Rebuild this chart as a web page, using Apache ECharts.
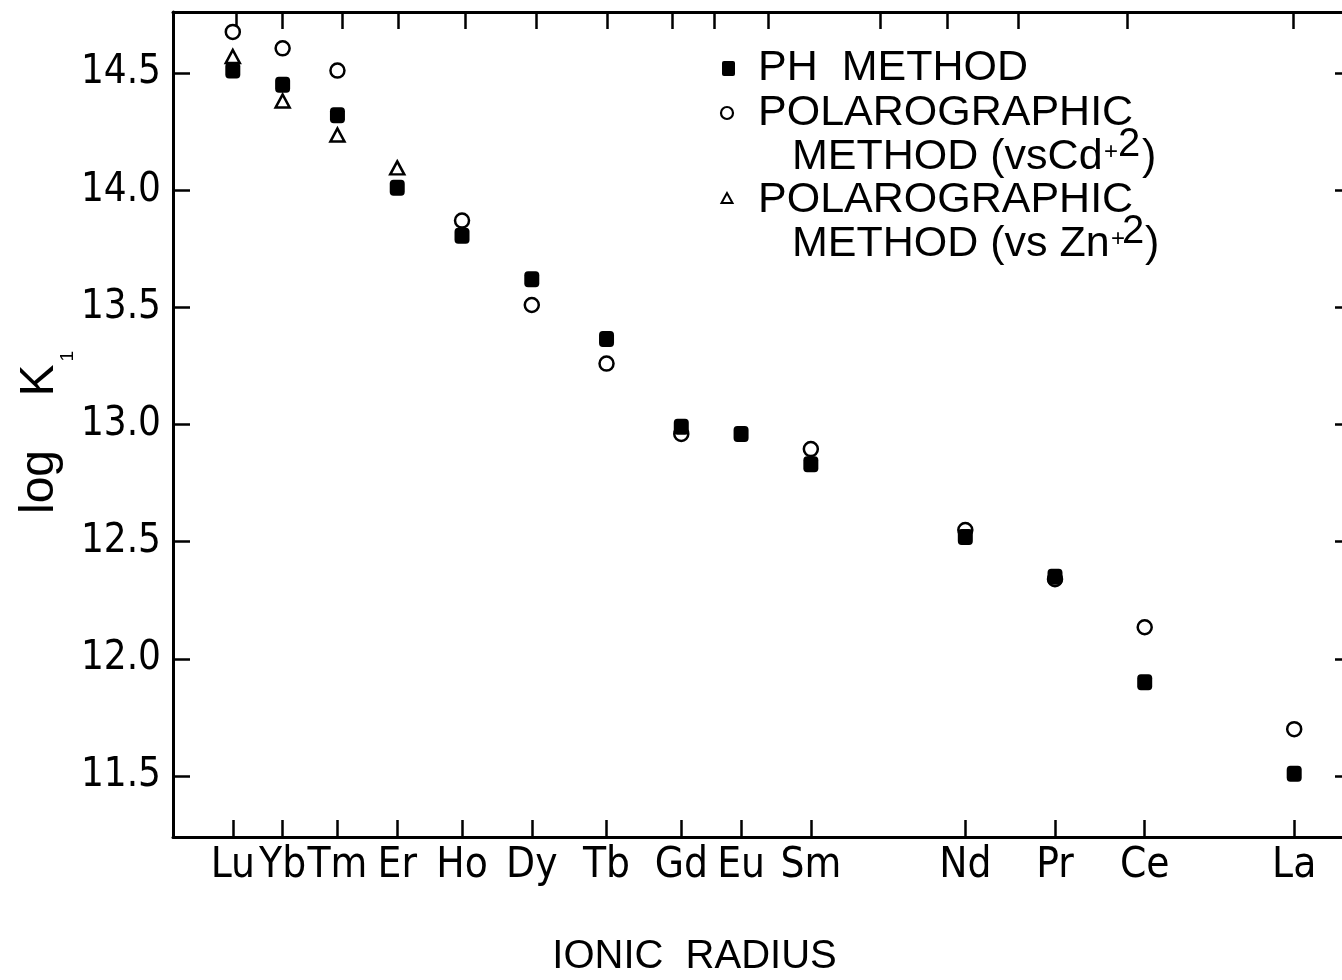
<!DOCTYPE html>
<html>
<head>
<meta charset="utf-8">
<script src="https://cdn.jsdelivr.net/npm/echarts@6/dist/echarts.min.js"></script>
<style>
html,body{margin:0;padding:0;background:#fff;}
#chart{width:1342px;height:980px;}
</style>
</head>
<body>
<div id="chart"></div>
<script>
// ---- data ----
const elements = ['Lu','Yb','Tm','Er','Ho','Dy','Tb','Gd','Eu','Sm','Nd','Pr','Ce','La'];
const ionicRadius = [0.848,0.858,0.869,0.881,0.894,0.908,0.923,0.938,0.950,0.964,0.995,1.013,1.031,1.061];
const phMethod =        [14.51,14.45,14.32,14.01,13.805,13.62,13.365,12.99,12.96,12.83,12.52,12.35,11.90,11.51];
const polarographicCd = [14.675,14.605,14.51,null,13.87,13.51,13.26,12.96,null,12.895,12.55,12.34,12.135,11.70];
const polarographicZn = [14.57,14.38,14.235,14.095,null,null,null,null,null,null,null,null,null,null];
const yTicks = [11.5,12.0,12.5,13.0,13.5,14.0,14.5];
const topTicks = [0.8486,0.8580,0.8699,0.8813,0.8946,0.9088,0.9231,0.9361,0.9446,0.9554,0.9779,0.9914,1.0056,1.0275,1.0608];

const xMin = 0.836, xMax = 1.0726, yMin = 11.24, yMax = 14.76;

const FN = "'Liberation Sans Narrow','DejaVu Sans Condensed','Liberation Sans',sans-serif";
const FR = "'Liberation Sans',Arial,sans-serif";

function pairs(vals){
  const out=[];
  vals.forEach((v,i)=>{ if(v!=null) out.push([ionicRadius[i], v]); });
  return out;
}
function nameFor(v){
  let best=0, bd=1e9;
  ionicRadius.forEach((r,i)=>{ const d=Math.abs(r-v); if(d<bd){bd=d;best=i;} });
  return elements[best];
}

const chart = echarts.init(document.getElementById('chart'), null, {renderer:'canvas'});
const lineStyle = {color:'#000', width:3};
const tickStyle = {color:'#000', width:2.5};
const option = {
  animation:false,
  backgroundColor:'#fff',
  grid:{left:173, top:12, right:-10, bottom:143, containLabel:false, outerBoundsMode:'none'},
  xAxis:[{
    type:'value', position:'bottom', min:xMin, max:xMax,
    axisLine:{show:true, onZero:false, lineStyle:lineStyle},
    axisTick:{show:true, inside:true, length:17, customValues:ionicRadius, lineStyle:tickStyle},
    axisLabel:{show:true, customValues:ionicRadius, formatter:v=>nameFor(v), color:'#000',
      fontFamily:FN, fontSize:42, margin:8, hideOverlap:false},
    splitLine:{show:false},
    name:'IONIC  RADIUS', nameLocation:'middle', nameGap:100, nameMoveOverlap:false,
    nameTextStyle:{fontFamily:FR, fontSize:40, color:'#000', padding:[0,136,0,0]}
  },{
    type:'value', position:'top', min:xMin, max:xMax,
    axisLine:{show:true, onZero:false, lineStyle:lineStyle},
    axisTick:{show:true, inside:true, length:17, customValues:topTicks, lineStyle:tickStyle},
    axisLabel:{show:false},
    splitLine:{show:false}
  }],
  yAxis:[{
    type:'value', position:'left', min:yMin, max:yMax,
    axisLine:{show:true, onZero:false, lineStyle:lineStyle},
    axisTick:{show:true, inside:true, length:17, customValues:yTicks, lineStyle:tickStyle},
    axisLabel:{show:true, customValues:yTicks, formatter:v=>v.toFixed(1), color:'#000',
      fontFamily:FN, fontSize:40, margin:12},
    splitLine:{show:false},
    name:'{a|log    K}{s|1}', nameLocation:'middle', nameGap:107, nameMoveOverlap:false,
    nameTextStyle:{color:'#000', padding:[0,16,0,0], rich:{
      a:{fontFamily:FR, fontSize:48, lineHeight:50, verticalAlign:'top', color:'#000'},
      s:{fontFamily:FR, fontSize:19, lineHeight:19, verticalAlign:'top', padding:[42,0,0,3], color:'#000'}
    }}
  },{
    type:'value', position:'right', min:yMin, max:yMax,
    axisLine:{show:true, onZero:false, lineStyle:lineStyle},
    axisTick:{show:true, inside:true, length:17, customValues:yTicks, lineStyle:tickStyle},
    axisLabel:{show:false},
    splitLine:{show:false}
  }],
  series:[{
    name:'POLAROGRAPHIC METHOD (vsZn+2)', type:'scatter', xAxisIndex:0, yAxisIndex:0,
    symbol:'triangle', symbolSize:[14,13], z:2,
    itemStyle:{color:'#fff', borderColor:'#000', borderWidth:2.5, opacity:1},
    data:pairs(polarographicZn)
  },{
    name:'POLAROGRAPHIC METHOD (vsCd+2)', type:'scatter', xAxisIndex:0, yAxisIndex:0,
    symbol:'circle', symbolSize:14, z:3,
    itemStyle:{color:'#fff', borderColor:'#000', borderWidth:2.5, opacity:1},
    data:pairs(polarographicCd)
  },{
    name:'PH METHOD', type:'scatter', xAxisIndex:0, yAxisIndex:0,
    symbol:'roundRect', symbolSize:[15,16], z:4,
    itemStyle:{color:'#000', opacity:1},
    data:pairs(phMethod)
  }],
  graphic:[
    {type:'rect', shape:{x:722,y:61,width:13,height:15,r:2}, style:{fill:'#000'}},
    {type:'text', style:{x:758,y:68,text:'PH  METHOD',font:'43px '+FR,fill:'#000',verticalAlign:'middle'}},
    {type:'circle', shape:{cx:727,cy:113,r:6}, style:{fill:'#fff',stroke:'#000',lineWidth:2.2}},
    {type:'text', style:{x:758,y:113,text:'POLAROGRAPHIC',font:'43px '+FR,fill:'#000',verticalAlign:'middle'}},
    {type:'text', style:{x:792,y:157,text:'METHOD (vsCd',font:'43px '+FR,fill:'#000',verticalAlign:'middle'}},
    {type:'text', style:{x:1104,y:152,text:'+',font:'24px '+FR,fill:'#000',verticalAlign:'middle'}},
    {type:'text', style:{x:1118,y:145,text:'2',font:'40px '+FR,fill:'#000',verticalAlign:'middle'}},
    {type:'text', style:{x:1142,y:157,text:')',font:'43px '+FR,fill:'#000',verticalAlign:'middle'}},
    {type:'polygon', shape:{points:[[727,193],[721.5,203],[732.5,203]]}, style:{fill:'#fff',stroke:'#000',lineWidth:2}},
    {type:'text', style:{x:758,y:200,text:'POLAROGRAPHIC',font:'43px '+FR,fill:'#000',verticalAlign:'middle'}},
    {type:'text', style:{x:792,y:244,text:'METHOD (vs Zn',font:'43px '+FR,fill:'#000',verticalAlign:'middle'}},
    {type:'text', style:{x:1111,y:239,text:'+',font:'24px '+FR,fill:'#000',verticalAlign:'middle'}},
    {type:'text', style:{x:1122,y:232,text:'2',font:'40px '+FR,fill:'#000',verticalAlign:'middle'}},
    {type:'text', style:{x:1145,y:244,text:')',font:'43px '+FR,fill:'#000',verticalAlign:'middle'}}
  ]
};
chart.setOption(option);
</script>
</body>
</html>
